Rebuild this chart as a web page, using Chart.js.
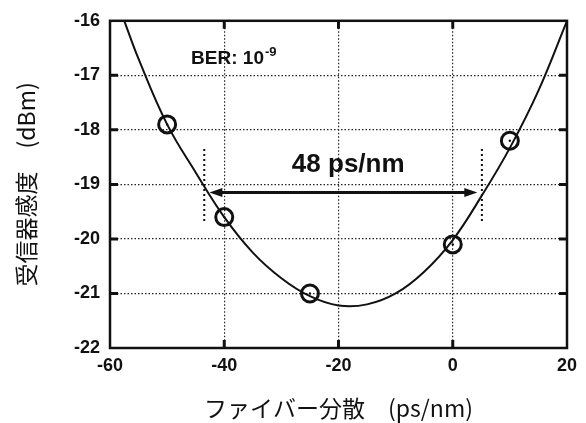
<!DOCTYPE html>
<html>
<head>
<meta charset="utf-8">
<script src="https://cdn.jsdelivr.net/npm/chart.js@4.4.0/dist/chart.umd.min.js"></script>
<style>
html, body { margin: 0; padding: 0; background: #fff; }
</style>
</head>
<body>
<canvas id="miGrafico" width="586" height="423"></canvas>
<script>
// medidas (circulos)
const dispersion = [-50, -40, -25, 0, 10];
const sensitivity = [-17.9, -19.6, -21.0, -20.1, -18.2];

// curva ajustada
const fitX = [-57.5, -55, -50, -45, -40, -35, -30, -25, -20, -15, -10, -5, 0, 5, 10, 15, 20];
const fitY = [-16.0, -16.7, -17.9, -18.78, -19.6, -20.25, -20.72, -21.05, -21.22, -21.2, -21.0, -20.6, -20.02, -19.22, -18.33, -17.28, -16.0];

// ejes
const xTicks = [-60, -40, -20, 0, 20];
const yTicks = [-22, -21, -20, -19, -18, -17, -16];

// ventana de 48 ps/nm
const windowEdges = [-43.5, 5.1];
const windowSpan = [-18.35, -19.7];
const arrowEnds = [-42.6, 4.3];
const arrowLevel = -19.15;
const windowLabel = '48 ps/nm';
const berLabel = ['BER: 10', '-9'];

const latin = '"Liberation Sans", Arial, sans-serif';
const cjk = '"Noto Sans CJK JP", sans-serif';

const framePlugin = {
  id: 'frame',
  afterDatasetsDraw(chart) {
    const {ctx, chartArea: a, scales: {x, y}} = chart;
    ctx.save();
    ctx.strokeStyle = '#111';
    // marcas hacia dentro
    ctx.lineWidth = 3;
    ctx.beginPath();
    xTicks.slice(1, -1).forEach(v => {
      const px = x.getPixelForValue(v);
      ctx.moveTo(px, a.bottom); ctx.lineTo(px, a.bottom - 8);
      ctx.moveTo(px, a.top); ctx.lineTo(px, a.top + 8);
    });
    yTicks.slice(1, -1).forEach(v => {
      const py = y.getPixelForValue(v);
      ctx.moveTo(a.left, py); ctx.lineTo(a.left + 8, py);
      ctx.moveTo(a.right, py); ctx.lineTo(a.right - 8, py);
    });
    ctx.stroke();
    // marco
    ctx.lineWidth = 2.5;
    ctx.strokeRect(a.left, a.top, a.right - a.left, a.bottom - a.top);
    ctx.restore();
  },
  afterDraw(chart) {
    const {ctx, scales: {x, y}} = chart;
    ctx.save();
    ctx.fillStyle = '#111';
    ctx.strokeStyle = '#111';

    // lineas punteadas verticales
    ctx.lineWidth = 2;
    ctx.setLineDash([2, 3]);
    ctx.beginPath();
    windowEdges.forEach(v => {
      const px = x.getPixelForValue(v);
      ctx.moveTo(px, y.getPixelForValue(windowSpan[0]));
      ctx.lineTo(px, y.getPixelForValue(windowSpan[1]));
    });
    ctx.stroke();
    ctx.setLineDash([]);

    // flecha doble
    const x1 = x.getPixelForValue(arrowEnds[0]);
    const x2 = x.getPixelForValue(arrowEnds[1]);
    const ay = y.getPixelForValue(arrowLevel);
    ctx.lineWidth = 3;
    ctx.beginPath();
    ctx.moveTo(x1 + 10, ay); ctx.lineTo(x2 - 10, ay);
    ctx.stroke();
    ctx.beginPath();
    ctx.moveTo(x1, ay); ctx.lineTo(x1 + 13, ay - 4.5); ctx.lineTo(x1 + 13, ay + 4.5); ctx.closePath();
    ctx.moveTo(x2, ay); ctx.lineTo(x2 - 13, ay - 4.5); ctx.lineTo(x2 - 13, ay + 4.5); ctx.closePath();
    ctx.fill();

    // textos
    ctx.textBaseline = 'alphabetic';
    ctx.font = 'bold 26px ' + latin;
    ctx.textAlign = 'center';
    ctx.fillText(windowLabel, x.getPixelForValue(-18.3), y.getPixelForValue(-18.77));

    ctx.textAlign = 'left';
    ctx.font = 'bold 19px ' + latin;
    const bx = x.getPixelForValue(-45.8);
    const by = y.getPixelForValue(-16.8);
    ctx.fillText(berLabel[0], bx, by);
    const w = ctx.measureText(berLabel[0]).width;
    ctx.font = 'bold 13px ' + latin;
    ctx.fillText(berLabel[1], bx + w + 1, by - 8);
    ctx.restore();
  }
};

const ctx = document.getElementById('miGrafico');

new Chart(ctx, {
  type: 'line',
  data: {
    datasets: [
      {
        label: 'fit',
        data: fitX.map((v, i) => ({x: v, y: fitY[i]})),
        borderColor: '#111',
        borderWidth: 2,
        pointRadius: 0,
        tension: 0.4,
        fill: false
      },
      {
        label: 'medida',
        data: dispersion.map((v, i) => ({x: v, y: sensitivity[i]})),
        showLine: false,
        pointStyle: 'circle',
        pointRadius: 8.5,
        pointBorderWidth: 3,
        pointBorderColor: '#111',
        pointBackgroundColor: 'rgba(0,0,0,0)'
      },
      {
        label: 'centro',
        data: dispersion.map((v, i) => ({x: v, y: sensitivity[i]})),
        showLine: false,
        pointRadius: 1.2,
        pointBorderWidth: 0,
        pointBackgroundColor: '#111'
      }
    ]
  },
  plugins: [framePlugin],
  options: {
    responsive: false,
    animation: false,
    layout: { padding: { top: 16, right: 19, left: 0, bottom: 0 } },
    plugins: { legend: { display: false }, tooltip: { enabled: false } },
    scales: {
      x: {
        type: 'linear',
        min: -60,
        max: 20,
        afterBuildTicks: s => { s.ticks = xTicks.map(v => ({value: v})); },
        afterFit: s => { s.height = 75; },
        ticks: { color: '#111', padding: 7, font: { family: latin, size: 18, weight: 'bold' } },
        grid: { color: '#222', lineWidth: 1.2, drawTicks: false },
        border: { display: false, dash: [1.5, 2] },
        title: {
          display: true,
          text: 'ファイバー分散　(ps/nm)',
          color: '#111',
          font: { family: cjk, size: 23 },
          padding: { top: 0, bottom: 1 }
        }
      },
      y: {
        type: 'linear',
        min: -22,
        max: -16,
        afterBuildTicks: s => { s.ticks = yTicks.map(v => ({value: v})); },
        afterFit: s => { s.width = 110; },
        ticks: { color: '#111', padding: 10, font: { family: latin, size: 18, weight: 'bold' } },
        grid: { color: '#222', lineWidth: 1.2, drawTicks: false },
        border: { display: false, dash: [1.5, 2] },
        title: {
          display: true,
          text: '受信器感度　(dBm)',
          color: '#111',
          font: { family: cjk, size: 23 },
          padding: { top: 12, bottom: 0 }
        }
      }
    }
  }
});
</script>
</body>
</html>
